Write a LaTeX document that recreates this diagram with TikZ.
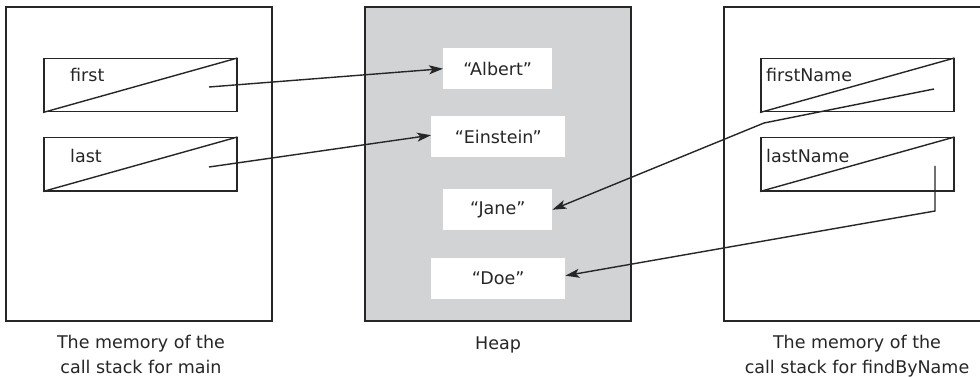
\documentclass[tikz,border=0pt]{standalone}
\usepackage{fontspec}
\setmainfont{DejaVu Sans}
\usetikzlibrary{arrows.meta}

\definecolor{heapgray}{HTML}{D1D3D4}
\definecolor{ink}{HTML}{262626}

\begin{document}
\begin{tikzpicture}[x=1pt,y=-1pt,
  every node/.style={font=\fontsize{17.5}{25}\selectfont, text=ink},
  frame/.style={draw=ink, line width=1.4pt},
  varbox/.style={draw=ink, line width=1.5pt, minimum width=193pt, minimum height=53pt, inner sep=0pt, anchor=north west},
  diag/.style={draw=ink, line width=1.4pt},
  strbox/.style={fill=white, minimum height=41pt, inner sep=0pt, anchor=north west},
  varname/.style={anchor=base west, inner sep=0pt},
  caption/.style={align=center, inner sep=0pt, anchor=base},
  link/.style={draw=ink, line width=1.4pt, -{Stealth[length=14pt,width=9pt,inset=3.5pt]}},
]
\clip (0,0) rectangle (980,377);
\fill[white] (0,0) rectangle (980,377);

% call stack frame of main
\draw[frame] (6,7) rectangle (272,321);
\node[varbox] (first) at (43,58) {};
\node[varbox] (last) at (43,137) {};
\draw[diag] (first.south west) -- (first.north east);
\draw[diag] (last.south west) -- (last.north east);
\node[varname] (tfirst) at (70,82) {first};
\node[varname] (tlast) at (70,163) {last};
\coordinate (pfirst) at (209,87);
\coordinate (plast) at (209,167);

% heap
\draw[frame, fill=heapgray] (365,7) rectangle (631,321);
\node[strbox, minimum width=109pt] (albert) at (443,48) {“Albert”};
\node[strbox, minimum width=134pt] (einstein) at (431,116) {“Einstein”};
\node[strbox, minimum width=109pt] (jane) at (443,189) {“Jane”};
\node[strbox, minimum width=134pt] (doe) at (431,258) {“Doe”};

% call stack frame of findByName
\draw[frame] (724,7) rectangle (985,321);
\node[varbox] (fname) at (760,58) {};
\node[varbox] (lname) at (760,137) {};
\draw[diag] (fname.south west) -- (fname.north east);
\draw[diag] (lname.south west) -- (lname.north east);
\node[varname] (tfname) at (766,82) {firstName};
\node[varname] (tlname) at (766,163) {lastName};
\coordinate (pfname) at (934,89);
\coordinate (bendf) at (764,123);
\coordinate (plname) at (935,166);
\coordinate (bendl) at (935,211);

% references
\draw[link] (pfirst) -- (albert.west);
\draw[link] (plast) -- ([yshift=1.5pt]einstein.west);
\draw[link] (pfname) -- (bendf) -- (jane.east);
\draw[link] (plname) -- (bendl) -- ([yshift=3pt]doe.east);

% captions (base anchor sits on the last line)
\node[caption] (cmain) at (141,373) {The memory of the\\call stack for main};
\node[caption] (cheap) at (498,349) {Heap};
\node[caption] (cfind) at (857,373) {The memory of the\\call stack for findByName};
\end{tikzpicture}
\end{document}
